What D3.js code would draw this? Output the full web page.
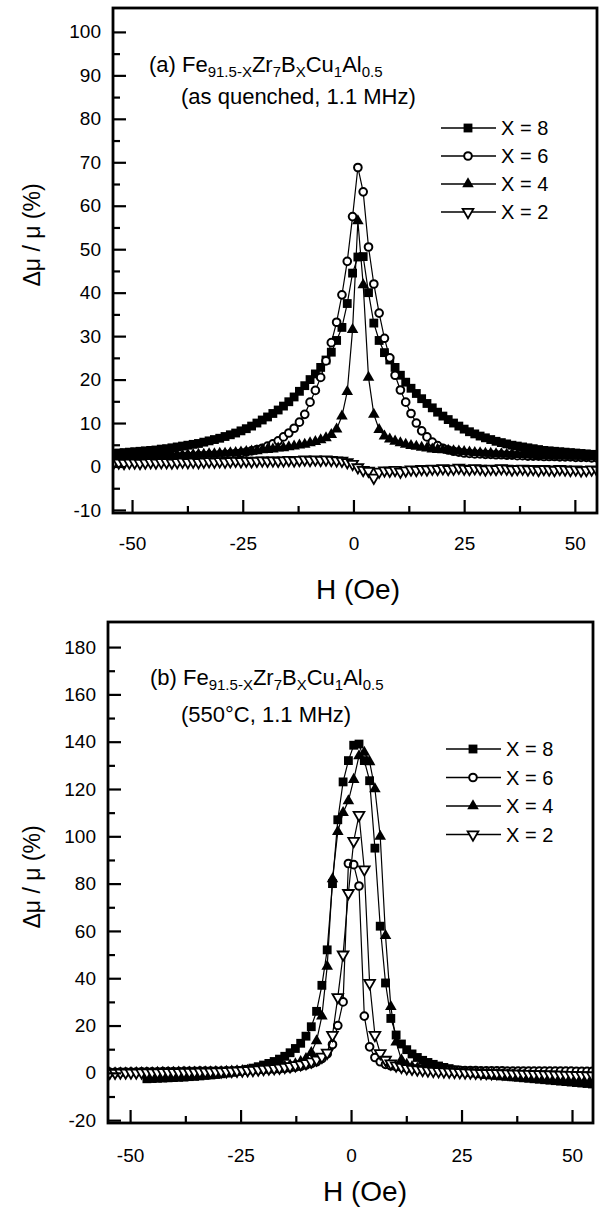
<!DOCTYPE html>
<html>
<head>
<meta charset="utf-8">
<script src="https://cdn.jsdelivr.net/npm/d3@7"></script>
<style>
  body { margin: 0; background: #fff; }
  text { font-family: "Liberation Sans", Arial, Helvetica, sans-serif; fill: #000; }
</style>
</head>
<body>
<svg id="chart" width="604" height="1207"></svg>
<script>
// field sweep steps (Oe) for each panel
var hA = d3.range(-54.2, 55.05, 1.2);
var hB = d3.range(-54.6, 54.65, 1.2);

var seriesNames = ['X = 8', 'X = 6', 'X = 4', 'X = 2'];
var xTicks = [-50, -25, 0, 25, 50];
var xMinor = [-37.5, -12.5, 12.5, 37.5];
var yTicksA = [-10, 0, 10, 20, 30, 40, 50, 60, 70, 80, 90, 100];
var yMinorA = [-5, 5, 15, 25, 35, 45, 55, 65, 75, 85, 95];
var yTicksB = [-20, 0, 20, 40, 60, 80, 100, 120, 140, 160, 180];
var yMinorB = [-10, 10, 30, 50, 70, 90, 110, 130, 150, 170];

// (a) as quenched
var a8 = [3.0,3.1,3.2,3.3,3.4,3.5,3.6,3.7,3.8,4.0,
  4.1,4.3,4.5,4.7,4.9,5.1,5.3,5.6,5.9,6.2,
  6.5,6.9,7.3,7.7,8.2,8.7,9.3,10.0,10.7,11.4,
  12.2,13.0,13.9,14.9,16.0,17.3,18.6,20.0,21.3,22.8,
  24.5,26.3,29.0,32.0,37.5,44.5,
  48.2,48.3,40.0,33.0,29.0,26.2,
  24.5,22.8,21.0,19.4,18.0,16.8,15.6,14.5,13.5,12.5,
  11.6,10.8,10.0,9.3,8.6,8.0,7.5,7.0,6.6,6.2,
  5.8,5.5,5.2,4.9,4.7,4.5,4.3,4.1,3.9,3.7,
  3.6,3.5,3.4,3.3,3.2,3.1,3.0,2.9,2.8,2.7];
var a6 = [2.0,2.0,2.0,2.0,2.1,2.1,2.1,2.1,2.2,2.2,
  2.2,2.3,2.3,2.3,2.4,2.4,2.5,2.5,2.6,2.6,
  2.7,2.8,2.9,3.0,3.1,3.3,3.6,3.9,4.2,4.7,
  5.2,5.9,6.8,7.7,8.8,10.2,12.0,14.8,17.5,20.5,
  24.3,28.5,33.2,39.5,47.2,57.5,
  68.8,63.2,50.5,42.0,35.3,29.5,
  25.0,21.0,17.6,14.8,12.2,10.0,8.2,6.8,5.6,4.8,
  4.2,3.8,3.5,3.3,3.1,3.0,2.9,2.9,2.8,2.8,
  2.7,2.7,2.6,2.6,2.5,2.5,2.4,2.4,2.4,2.3,
  2.3,2.3,2.2,2.2,2.2,2.1,2.1,2.1,2.0,2.0];
var a4 = [2.2,2.2,2.2,2.3,2.3,2.3,2.4,2.4,2.4,2.5,
  2.5,2.5,2.6,2.6,2.7,2.7,2.8,2.8,2.9,2.9,
  3.0,3.0,3.1,3.2,3.3,3.4,3.5,3.6,3.8,3.9,
  4.0,4.2,4.3,4.5,4.7,4.9,5.1,5.4,5.7,6.1,
  6.6,7.3,8.6,11.6,17.2,31.5,
  56.5,41.8,20.5,12.0,8.5,7.0,
  6.3,5.8,5.4,5.1,4.8,4.6,4.4,4.2,4.0,3.9,
  3.8,3.7,3.6,3.5,3.4,3.3,3.2,3.1,3.0,3.0,
  2.9,2.9,2.8,2.8,2.7,2.7,2.6,2.6,2.5,2.5,
  2.5,2.4,2.4,2.4,2.3,2.3,2.3,2.2,2.2,2.2];
var a2 = [0.8,0.9,0.8,0.9,0.9,0.8,0.9,1.0,0.9,1.0,
  1.0,0.9,1.0,1.1,1.0,1.1,1.0,1.1,1.2,1.1,
  1.2,1.1,1.2,1.3,1.2,1.3,1.2,1.3,1.4,1.3,
  1.4,1.3,1.4,1.5,1.4,1.5,1.6,1.5,1.6,1.5,
  1.6,1.5,1.4,1.3,1.0,0.6,
  -0.2,-0.8,-1.0,-2.6,-1.2,-0.9,
  -1.0,-0.8,-1.2,-0.9,-0.7,-0.8,-0.6,-0.7,-0.5,-0.6,
  -0.4,-0.6,-0.5,-0.3,-0.5,-0.6,-0.4,-0.5,-0.7,-0.5,
  -0.6,-0.4,-0.5,-0.7,-0.6,-0.5,-0.7,-0.6,-0.8,-0.6,
  -0.7,-0.8,-0.6,-0.7,-0.8,-0.7,-0.9,-0.8,-0.7,-0.8];

// (b) 550 C
var b8 = [null,null,null,null,null,null,null,-2.5,-2.4,-2.3,
  -2.2,-2.1,-2.0,-1.9,-1.8,-1.6,-1.5,-1.3,-1.1,-0.9,
  -0.7,-0.4,-0.1,0.2,0.6,1.0,1.5,2.0,2.6,3.3,
  4.0,4.8,5.8,7.0,8.5,10.3,12.5,15.5,19.5,26,
  37,52,80,107,123,132,
  138.5,139,132,123.5,95,62,
  38,23,16,12.2,9.8,8.0,6.5,5.3,4.4,3.6,
  2.9,2.3,1.8,1.3,0.9,0.5,0.2,-0.1,-0.4,-0.7,
  -0.9,-1.1,-1.3,-1.5,-1.7,-1.9,-2.1,-2.3,-2.5,-2.7,
  -2.9,-3.1,-3.3,-3.5,-3.7,-3.9,-4.1,-4.3,-4.5,-4.7];
var b6 = [0.2,0.2,0.3,0.3,0.3,0.3,0.4,0.4,0.4,0.4,
  0.5,0.5,0.5,0.5,0.6,0.6,0.6,0.7,0.7,0.7,
  0.8,0.8,0.9,0.9,1.0,1.0,1.1,1.2,1.3,1.4,
  1.5,1.6,1.7,1.9,2.1,2.4,2.8,3.3,3.9,4.7,
  6.0,8.0,12,20,30,88.5,
  88,79,24,11,6.5,4.7,
  3.6,3.0,2.6,2.3,2.0,1.8,1.7,1.6,1.5,1.4,
  1.3,1.2,1.2,1.1,1.1,1.0,1.0,1.0,0.9,0.9,
  0.9,0.9,0.9,0.8,0.8,0.8,0.8,0.8,0.8,0.7,
  0.7,0.7,0.7,0.7,0.7,0.7,0.6,0.6,0.6,0.6];
var b4 = [0.0,0.0,0.0,0.0,0.1,0.1,0.1,0.1,0.1,0.2,
  0.2,0.2,0.2,0.3,0.3,0.3,0.3,0.4,0.4,0.4,
  0.5,0.5,0.6,0.7,0.8,0.9,1.0,1.1,1.3,1.5,
  1.7,2.0,2.3,2.7,3.2,3.8,4.7,6.0,8.5,13.5,
  24,45,82,102,110,115,
  124,134,135.5,131.5,120,100,
  58,28,13,5.5,3.6,2.6,2.0,1.6,1.3,1.0,
  0.8,0.6,0.4,0.3,0.1,0.0,-0.1,-0.2,-0.4,-0.5,
  -0.6,-0.7,-0.8,-0.9,-1.0,-1.1,-1.2,-1.3,-1.4,-1.5,
  -1.6,-1.7,-1.8,-1.9,-2.0,-2.1,-2.2,-2.3,-2.4,-2.5];
var b2 = [0.0,0.0,0.1,0.1,0.1,0.1,0.2,0.2,0.2,0.2,
  0.3,0.3,0.3,0.3,0.4,0.4,0.4,0.5,0.5,0.5,
  0.6,0.6,0.7,0.8,0.9,1.0,1.1,1.2,1.4,1.6,
  1.8,2.0,2.2,2.5,2.8,3.2,3.6,4.1,4.8,5.6,
  6.8,8.5,16,32,50,76,
  98,109,86,38,16,8.3,
  5.5,4.0,3.1,2.5,2.0,1.7,1.4,1.2,1.0,0.8,
  0.7,0.6,0.5,0.4,0.3,0.2,0.1,0.0,-0.1,-0.1,
  -0.2,-0.2,-0.3,-0.3,-0.4,-0.4,-0.5,-0.5,-0.6,-0.6,
  -0.7,-0.7,-0.8,-0.8,-0.9,-0.9,-1.0,-1.0,-1.1,-1.1];

var marks = [
  { type: d3.symbolSquare, size: 78, fill: '#000', sw: 0, rot: false },
  { type: d3.symbolCircle, size: 46, fill: '#fff', sw: 2, rot: false },
  { type: d3.symbolTriangle, size: 58, fill: '#000', sw: 0, rot: false },
  { type: d3.symbolTriangle, size: 50, fill: '#fff', sw: 1.8, rot: true }
];

var svg = d3.select('#chart');
var plain = function (d) { return String(d); };

var drawPanel = function (p) {
  var x = d3.scaleLinear().domain(p.xDom).range([p.x0, p.x1]);
  var y = d3.scaleLinear().domain(p.yDom).range([p.y1, p.y0]);
  var g = svg.append('g');

  g.append('clipPath').attr('id', p.id + 'Clip')
    .append('rect')
    .attr('x', p.x0).attr('y', p.y0)
    .attr('width', p.x1 - p.x0).attr('height', p.y1 - p.y0);

  var plot = g.append('g').attr('clip-path', 'url(#' + p.id + 'Clip)');

  p.series.forEach(function (vals, k) {
    var pts = [];
    for (var i = 0; i < p.h.length; i++) {
      if (vals[i] !== null) pts.push([p.h[i], vals[i]]);
    }
    plot.append('path')
      .attr('d', d3.line().x(function (d) { return x(d[0]); }).y(function (d) { return y(d[1]); })(pts))
      .attr('fill', 'none')
      .attr('stroke', '#000')
      .attr('stroke-width', 1.2);

    var m = marks[k];
    plot.selectAll(null).data(pts).enter().append('path')
      .attr('transform', function (d) {
        return 'translate(' + x(d[0]) + ',' + y(d[1]) + ')' + (m.rot ? ' rotate(180)' : '');
      })
      .attr('d', d3.symbol().type(m.type).size(m.size))
      .attr('fill', m.fill)
      .attr('stroke', m.sw ? '#000' : 'none')
      .attr('stroke-width', m.sw);
  });

  // ticks point inward
  g.append('g').attr('transform', 'translate(' + p.x0 + ',0)')
    .call(d3.axisLeft(y).tickValues(p.yMajor).tickSize(-13).tickPadding(12).tickFormat(plain));
  g.append('g').attr('transform', 'translate(' + p.x0 + ',0)')
    .call(d3.axisLeft(y).tickValues(p.yMinor).tickSize(-7).tickFormat(''));
  g.append('g').attr('transform', 'translate(0,' + p.y1 + ')')
    .call(d3.axisBottom(x).tickValues(xTicks).tickSize(-13).tickPadding(p.xPad).tickFormat(plain));
  g.append('g').attr('transform', 'translate(0,' + p.y1 + ')')
    .call(d3.axisBottom(x).tickValues(xMinor).tickSize(-7).tickFormat(''));

  g.selectAll('.domain').remove();
  g.selectAll('.tick line').attr('stroke', '#000').attr('stroke-width', 2.2);
  g.selectAll('.tick text').attr('font-size', 19).attr('font-family', '"Liberation Sans", Arial, sans-serif');

  g.append('rect')
    .attr('x', p.x0).attr('y', p.y0)
    .attr('width', p.x1 - p.x0).attr('height', p.y1 - p.y0)
    .attr('fill', 'none').attr('stroke', '#000').attr('stroke-width', 2.8);

  g.append('text')
    .attr('x', p.xTitle[0]).attr('y', p.xTitle[1])
    .attr('text-anchor', 'middle').attr('font-size', 28)
    .text('H (Oe)');

  g.append('text')
    .attr('transform', 'translate(' + p.yTitle[0] + ',' + p.yTitle[1] + ') rotate(-90)')
    .attr('text-anchor', 'middle').attr('font-size', 23)
    .text('\u0394\u03bc / \u03bc (%)');

  // composition label with subscripts
  var t = g.append('text').attr('x', p.label[0]).attr('y', p.label[1]).attr('font-size', 22);
  var parts = [[p.tag + ' Fe', 0], ['91.5-X', 1], ['Zr', 0], ['7', 1], ['B', 0], ['X', 1],
    ['Cu', 0], ['1', 1], ['Al', 0], ['0.5', 1]];
  var shift = 0;
  parts.forEach(function (q) {
    var d = q[1] ? 5 : 0;
    t.append('tspan').attr('dy', d - shift).attr('font-size', q[1] ? 15 : 22).text(q[0]);
    shift = d;
  });
  g.append('text').attr('x', p.label2[0]).attr('y', p.label2[1]).attr('font-size', 22).text(p.cond);

  // legend
  seriesNames.forEach(function (name, k) {
    var ly = p.legend[1] + k * p.legend[2];
    g.append('line')
      .attr('x1', p.legend[0]).attr('x2', p.legend[0] + 55)
      .attr('y1', ly).attr('y2', ly)
      .attr('stroke', '#000').attr('stroke-width', 1.3);
    var m = marks[k];
    g.append('path')
      .attr('transform', 'translate(' + (p.legend[0] + 27) + ',' + ly + ')' + (m.rot ? ' rotate(180)' : ''))
      .attr('d', d3.symbol().type(m.type).size(m.size))
      .attr('fill', m.fill)
      .attr('stroke', m.sw ? '#000' : 'none')
      .attr('stroke-width', m.sw);
    g.append('text')
      .attr('x', p.legend[0] + 60).attr('y', ly + 7)
      .attr('font-size', 20)
      .text(name);
  });
};

drawPanel({
  id: 'a', h: hA, series: [a8, a6, a4, a2],
  x0: 113, x1: 597, y0: 8, y1: 513,
  xDom: [-54.3, 55], yDom: [-10.7, 105.5],
  yMajor: yTicksA, yMinor: yMinorA, xPad: 24,
  xTitle: [358, 599], yTitle: [40, 235],
  tag: '(a)', label: [149, 72], label2: [181, 104], cond: '(as quenched, 1.1 MHz)',
  legend: [441, 128, 28]
});

drawPanel({
  id: 'b', h: hB, series: [b8, b6, b4, b2],
  x0: 108, x1: 593, y0: 622, y1: 1123,
  xDom: [-55, 54.75], yDom: [-21.2, 190.6],
  yMajor: yTicksB, yMinor: yMinorB, xPad: 26,
  xTitle: [365, 1201], yTitle: [40, 877],
  tag: '(b)', label: [150, 685], label2: [181, 722], cond: '(550\u00b0C, 1.1 MHz)',
  legend: [446, 749, 28.5]
});
</script>
</body>
</html>
